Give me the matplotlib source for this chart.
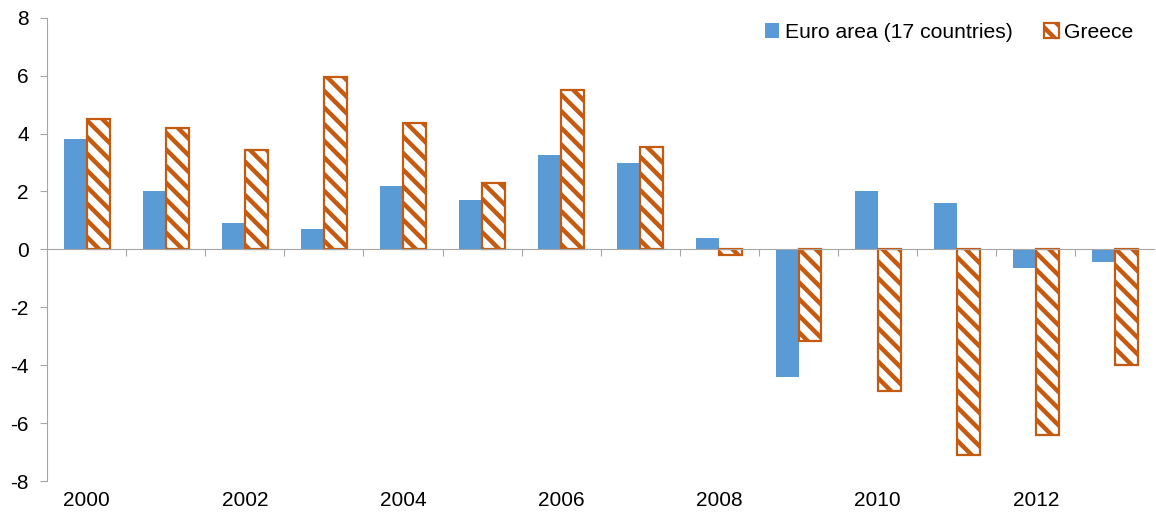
import numpy as np
import matplotlib.pyplot as plt
import matplotlib.transforms as mtransforms

plt.rcParams["font.family"] = ["Liberation Sans", "DejaVu Sans"]
plt.rcParams["hatch.linewidth"] = 3.2
plt.rcParams["axes.unicode_minus"] = False

# data
years = list(range(2000, 2014))
euro_area = [3.8, 2.0, 0.9, 0.7, 2.2, 1.7, 3.25, 3.0, 0.4, -4.4, 2.0, 1.6, -0.65, -0.42]
greece = [4.5, 4.2, 3.45, 5.95, 4.35, 2.3, 5.5, 3.55, -0.2, -3.15, -4.9, -7.1, -6.4, -4.0]
year_labels = ["2000", "2002", "2004", "2006", "2008", "2010", "2012"]

blue = "#5B9BD5"
orange = "#C55A11"
grey = "#A6A6A6"

fig = plt.figure(figsize=(11.56, 5.17), dpi=100)
ax = fig.add_axes([0.0407, 0.0696, 0.958, 0.896])

x = np.arange(len(years))
w = 0.29
ax.bar(x - w / 2, euro_area, w, color=blue, label="Euro area (17 countries)")
ax.bar(x + w / 2, greece, w, facecolor="white", edgecolor=orange, hatch="\\\\",
       linewidth=1.6, label="Greece")

ax.set_xlim(-0.5, len(years) - 0.5)
ax.set_ylim(-8, 8)
ax.set_yticks(np.arange(-8, 9, 2))
ax.tick_params(axis="y", labelsize=15, length=5, color=grey, pad=8)

# category axis drawn at zero
ax.spines["bottom"].set_position(("data", 0))
for s in ["top", "right"]:
    ax.spines[s].set_visible(False)
ax.spines["left"].set_color(grey)
ax.spines["bottom"].set_color(grey)
ax.set_xticks(np.arange(0.5, len(years) - 0.5, 1))
ax.set_xticklabels([])
ax.tick_params(axis="x", length=5, color=grey, direction="out")

trans = mtransforms.blended_transform_factory(ax.transData, ax.transAxes)
for lab in year_labels:
    i = years.index(int(lab))
    ax.text(i, -0.022, lab, transform=trans, ha="center", va="top", fontsize=15)

leg = ax.legend(loc="upper right", bbox_to_anchor=(0.998, 1.03), ncol=2, frameon=False,
                fontsize=15.2, handlelength=0.7, handleheight=0.7, handletextpad=0.25,
                columnspacing=1.5)

fig.savefig("out.png", dpi=100)
